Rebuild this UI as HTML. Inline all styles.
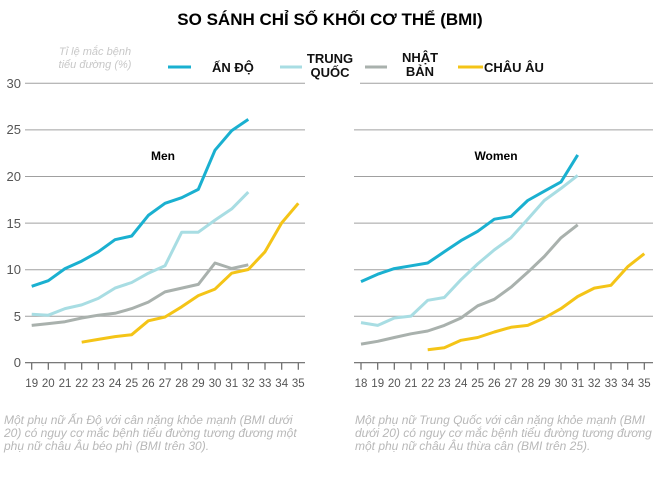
<!DOCTYPE html><html><head><meta charset="utf-8"><style>body{margin:0;background:#fff;width:660px;height:478px;overflow:hidden}svg{font-family:"Liberation Sans",sans-serif}</style></head><body>
<svg width="660" height="478" viewBox="0 0 660 478" xmlns="http://www.w3.org/2000/svg">
<text x="330" y="25" text-anchor="middle" font-size="17" font-weight="bold">SO SÁNH CHỈ SỐ KHỐI CƠ THỂ (BMI)</text>
<text x="95" y="55" text-anchor="middle" font-size="11" font-style="italic" fill="#c8c8c8">Tỉ lệ mắc bệnh</text>
<text x="95" y="68" text-anchor="middle" font-size="11" font-style="italic" fill="#c8c8c8">tiểu đường (%)</text>
<g stroke-width="3" fill="none">
<line x1="168" y1="67" x2="191" y2="67" stroke="#1ab0d0"/>
<line x1="280" y1="67" x2="302" y2="67" stroke="#a8dde3"/>
<line x1="365" y1="67" x2="387" y2="67" stroke="#a9b1ad"/>
<line x1="458" y1="67" x2="483" y2="67" stroke="#f4c417"/>
</g>
<g font-size="13" font-weight="bold" fill="#111">
<text x="212" y="72">ẤN ĐỘ</text>
<text x="330" y="63" text-anchor="middle">TRUNG</text><text x="330" y="77" text-anchor="middle">QUỐC</text>
<text x="420" y="62" text-anchor="middle">NHẬT</text><text x="420" y="76" text-anchor="middle">BẢN</text>
<text x="484" y="72">CHÂU ÂU</text>
</g>
<g stroke="#a0a0a0" stroke-width="1">
<line x1="25" y1="83.3" x2="305" y2="83.3"/><line x1="25" y1="129.9" x2="305" y2="129.9"/><line x1="25" y1="176.5" x2="305" y2="176.5"/><line x1="25" y1="223.1" x2="305" y2="223.1"/><line x1="25" y1="269.7" x2="305" y2="269.7"/><line x1="25" y1="316.3" x2="305" y2="316.3"/>
<line x1="360" y1="83.3" x2="653" y2="83.3"/><line x1="354" y1="129.9" x2="653" y2="129.9"/><line x1="354" y1="176.5" x2="653" y2="176.5"/><line x1="354" y1="223.1" x2="653" y2="223.1"/><line x1="354" y1="269.7" x2="653" y2="269.7"/><line x1="354" y1="316.3" x2="653" y2="316.3"/>
</g>
<g stroke="#666" stroke-width="1.2">
<line x1="25" y1="362.7" x2="305" y2="362.7"/><line x1="354" y1="362.7" x2="653" y2="362.7"/>
<path d="M31.7 362.7v7M48.3 362.7v7M65 362.7v7M81.7 362.7v7M98.3 362.7v7M115 362.7v7M131.7 362.7v7M148.3 362.7v7M165 362.7v7M181.7 362.7v7M198.3 362.7v7M215 362.7v7M231.7 362.7v7M248.3 362.7v7M265 362.7v7M281.7 362.7v7M298.3 362.7v7"/>
<path d="M361 362.7v7M377.7 362.7v7M394.3 362.7v7M411 362.7v7M427.7 362.7v7M444.3 362.7v7M461 362.7v7M477.7 362.7v7M494.3 362.7v7M511 362.7v7M527.7 362.7v7M544.3 362.7v7M561 362.7v7M577.7 362.7v7M594.3 362.7v7M611 362.7v7M627.7 362.7v7M644.3 362.7v7"/>
</g>
<g font-size="13" fill="#555" text-anchor="end">
<text x="21" y="88">30</text><text x="21" y="134">25</text><text x="21" y="181">20</text><text x="21" y="228">15</text><text x="21" y="274">10</text><text x="21" y="321">5</text><text x="21" y="367">0</text>
</g>
<g font-size="11.5" fill="#555" text-anchor="middle">
<text x="31.7" y="387">19</text><text x="48.3" y="387">20</text><text x="65" y="387">21</text><text x="81.7" y="387">22</text><text x="98.3" y="387">23</text><text x="115" y="387">24</text><text x="131.7" y="387">25</text><text x="148.3" y="387">26</text><text x="165" y="387">27</text><text x="181.7" y="387">28</text><text x="198.3" y="387">29</text><text x="215" y="387">30</text><text x="231.7" y="387">31</text><text x="248.3" y="387">32</text><text x="265" y="387">33</text><text x="281.7" y="387">34</text><text x="298.3" y="387">35</text>
<text x="361" y="387">18</text><text x="377.7" y="387">19</text><text x="394.3" y="387">20</text><text x="411" y="387">21</text><text x="427.7" y="387">22</text><text x="444.3" y="387">23</text><text x="461" y="387">24</text><text x="477.7" y="387">25</text><text x="494.3" y="387">26</text><text x="511" y="387">27</text><text x="527.7" y="387">28</text><text x="544.3" y="387">29</text><text x="561" y="387">30</text><text x="577.7" y="387">31</text><text x="594.3" y="387">32</text><text x="611" y="387">33</text><text x="627.7" y="387">34</text><text x="644.3" y="387">35</text>
</g>
<text x="163" y="160" text-anchor="middle" font-size="12" font-weight="bold">Men</text>
<text x="496" y="160" text-anchor="middle" font-size="12" font-weight="bold">Women</text>
<g fill="none" stroke-width="3" stroke-linejoin="round">
<polyline stroke="#a9b1ad" points="31.7,325.4 48.3,323.6 65,321.7 81.7,318 98.3,315.2 115,313.3 131.7,308.6 148.3,302.1 165,291.9 181.7,288.1 198.3,284.4 215,263 231.7,268.5 248.3,264.8"/>
<polyline stroke="#a8dde3" points="31.7,314.2 48.3,315.2 65,308.6 81.7,304.9 98.3,298.4 115,288.1 131.7,282.5 148.3,273.2 165,265.8 181.7,232.2 198.3,232.2 215,220.1 231.7,208.9 248.3,192.1"/>
<polyline stroke="#f4c417" points="81.7,342.2 98.3,339.4 115,336.6 131.7,334.7 148.3,320.8 165,317 181.7,306.8 198.3,295.6 215,289.1 231.7,273.2 248.3,269.5 265,251.8 281.7,222.9 298.3,203.3"/>
<polyline stroke="#1ab0d0" points="31.7,286.3 48.3,280.7 65,268.6 81.7,261.1 98.3,251.8 115,239.7 131.7,236 148.3,215.4 165,203.3 181.7,197.7 198.3,189.4 215,150.2 231.7,130.6 248.3,119.4"/>
<polyline stroke="#a9b1ad" points="361,344.1 377.7,341.3 394.3,337.5 411,333.8 427.7,331 444.3,325.4 461,318 477.7,305.8 494.3,299.3 511,287.2 527.7,272.3 544.3,256.5 561,237.8 577.7,224.8"/>
<polyline stroke="#a8dde3" points="361,322.6 377.7,325.4 394.3,318 411,316.1 427.7,300.3 444.3,297.5 461,279.7 477.7,263.9 494.3,249.9 511,237.8 527.7,219.2 544.3,200.5 561,188.4 577.7,175.4"/>
<polyline stroke="#f4c417" points="427.7,349.7 444.3,347.8 461,340.3 477.7,337.5 494.3,332 511,327.3 527.7,325.4 544.3,318 561,308.6 577.7,296.5 594.3,288.1 611,285.3 627.7,266.7 644.3,253.7"/>
<polyline stroke="#1ab0d0" points="361,281.6 377.7,274.2 394.3,268.6 411,265.8 427.7,263 444.3,251.8 461,240.6 477.7,231.3 494.3,219.2 511,216.4 527.7,200.5 544.3,191.2 561,181.9 577.7,154.9"/>
</g>
<g font-size="12" font-style="italic" fill="#b8b8b8">
<text x="4" y="424">Một phụ nữ Ấn Độ với cân nặng khỏe mạnh (BMI dưới</text>
<text x="4" y="437">20) có nguy cơ mắc bệnh tiểu đường tương đương một</text>
<text x="4" y="450">phụ nữ châu Âu béo phì (BMI trên 30).</text>
<text x="355" y="424">Một phụ nữ Trung Quốc với cân nặng khỏe mạnh (BMI</text>
<text x="355" y="437">dưới 20) có nguy cơ mắc bệnh tiểu đường tương đương</text>
<text x="355" y="450">một phụ nữ châu Âu thừa cân (BMI trên 25).</text>
</g>
</svg></body></html>
